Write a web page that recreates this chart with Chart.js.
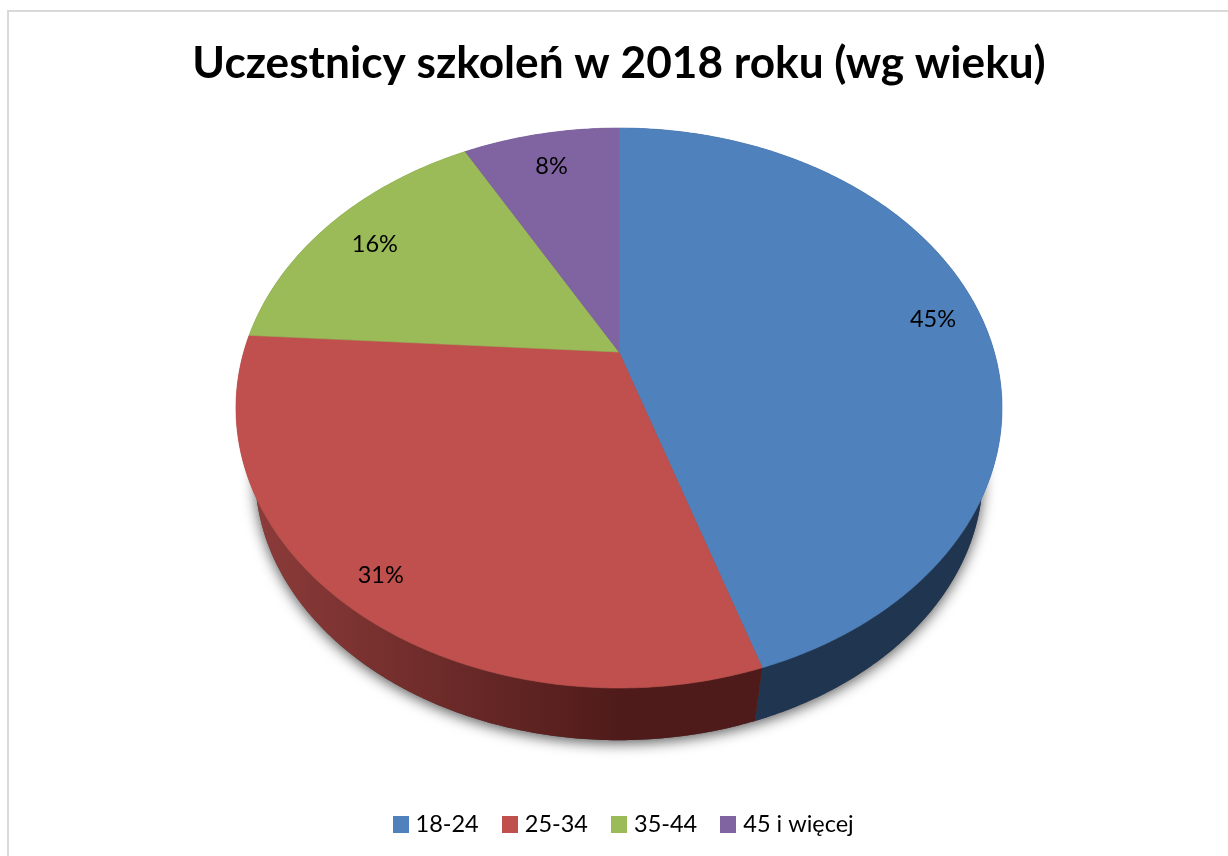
<!DOCTYPE html>
<html>
<head>
<meta charset="utf-8">
<title>Uczestnicy szkoleń</title>
<script src="https://cdn.jsdelivr.net/npm/chart.js@4"></script>
<style>
  html, body { margin: 0; padding: 0; background: #fff; overflow: hidden; }
  #frame { position: absolute; left: 7px; top: 10px; right: 0; bottom: 0; border-left: 2px solid #d9d9d9; border-top: 2px solid #d9d9d9; }
  #chart { position: absolute; left: 0; top: 0; }
</style>
</head>
<body>
<div id="frame"></div>
<canvas id="chart" width="1228" height="856"></canvas>
<script>
// Data
const titleText = "Uczestnicy szkoleń w 2018 roku (wg wieku)";
const categories = ["18-24", "25-34", "35-44", "45 i więcej"];
const shares = [45, 31, 16, 8];

// Colours
const sliceColors = ["#4f81bd", "#c0504d", "#9bbb59", "#8064a2"];
const wallLight = ["#1f3550", "#8b3b39", "#5d7035", "#4c3c61"];
const wallDark = ["#1f3550", "#4f1b1a", "#5d7035", "#4c3c61"];

// How far out along the radius each percent label sits
const labelDepth = [0.87, 0.89, 0.84, 0.84];

// Tilted view of the pie: the disc is seen in perspective, so its centre is
// not in the middle of the ellipse
const view = { apexY: 352, ax: 375.3, by: 268.8, k: 0.2, lowerScale: 0.95, lowerY: 421 };

function project(el, angle, r, lower) {
  const u = r * Math.cos(angle);
  const v = r * Math.sin(angle);
  const d = 1 - view.k * v;
  const s = lower ? view.lowerScale : 1;
  return {
    x: el.x + s * view.ax * u / d,
    y: (lower ? view.lowerY : view.apexY) + s * view.by * v / d
  };
}

function traceEdge(ctx, el, from, to, lower) {
  const steps = Math.max(2, Math.ceil(Math.abs(to - from) / 0.01));
  for (let i = 0; i <= steps; i++) {
    const p = project(el, from + (to - from) * i / steps, 1, lower);
    ctx.lineTo(p.x, p.y);
  }
}

// Legend swatch as a small canvas, so the gap to the text can be closer than
// the legend's own box layout allows
function swatch(color) {
  const c = document.createElement("canvas");
  c.width = 16;
  c.height = 17;
  const g = c.getContext("2d");
  g.fillStyle = color;
  g.fillRect(0, 0, 16, 17);
  return c;
}

const tiltedPie = {
  id: "tiltedPie",
  afterLayout(chart) {
    // legend sits a little right of the canvas centre
    chart.legend.left += 6.5;
    chart.legend.right += 6.5;
  },
  beforeDatasetDraw(chart, args) {
    const ctx = chart.ctx;
    const arcs = args.meta.data;
    const first = arcs[0];

    // soft shadow under the bottom edge
    ctx.save();
    ctx.shadowColor = "rgba(0,0,0,0.65)";
    ctx.shadowBlur = 14;
    ctx.shadowOffsetY = 3;
    ctx.fillStyle = "#444";
    ctx.beginPath();
    traceEdge(ctx, first, 0, Math.PI * 2, true);
    ctx.closePath();
    ctx.fill();
    ctx.restore();

    // side walls
    arcs.forEach((el, i) => {
      const grad = ctx.createLinearGradient(260, 0, 620, 0);
      grad.addColorStop(0, wallLight[i]);
      grad.addColorStop(1, wallDark[i]);
      ctx.fillStyle = grad;
      ctx.beginPath();
      traceEdge(ctx, el, el.startAngle, el.endAngle, false);
      traceEdge(ctx, el, el.endAngle, el.startAngle, true);
      ctx.closePath();
      ctx.fill();
    });

    // top face
    arcs.forEach(el => {
      const apex = project(el, 0, 0, false);
      ctx.fillStyle = el.options.backgroundColor;
      ctx.strokeStyle = el.options.backgroundColor;
      ctx.lineWidth = 0.6;
      ctx.beginPath();
      ctx.moveTo(apex.x, apex.y);
      traceEdge(ctx, el, el.startAngle, el.endAngle, false);
      ctx.closePath();
      ctx.fill();
      ctx.stroke();
    });

    // percent labels
    ctx.fillStyle = "#000";
    ctx.font = "23.5px Lato";
    ctx.textAlign = "center";
    ctx.textBaseline = "middle";
    const total = shares.reduce((a, b) => a + b, 0);
    arcs.forEach((el, i) => {
      const p = project(el, (el.startAngle + el.endAngle) / 2, labelDepth[i], false);
      ctx.fillText(Math.round(shares[i] / total * 100) + "%", p.x, p.y + 3);
    });
    return false; // the flat arcs are not drawn
  }
};

new Chart(document.getElementById("chart"), {
  type: "pie",
  data: {
    labels: categories,
    datasets: [{ data: shares, backgroundColor: sliceColors, borderWidth: 0 }]
  },
  plugins: [tiltedPie],
  options: {
    responsive: false,
    animation: false,
    layout: { padding: { left: 10, top: 37, bottom: 10 } },
    plugins: {
      tooltip: { enabled: false },
      title: {
        display: true,
        text: titleText,
        color: "#000",
        font: { family: "Lato", size: 44.2, weight: "bold" },
        padding: { top: 0, bottom: 10 }
      },
      legend: {
        position: "bottom",
        labels: {
          color: "#000",
          font: { family: "Lato", size: 23.5 },
          usePointStyle: true,
          pointStyleWidth: 6.5,
          padding: 27.75,
          generateLabels(chart) {
            const items = Chart.overrides.pie.plugins.legend.labels.generateLabels(chart);
            items.forEach((it, i) => { it.pointStyle = swatch(sliceColors[i]); });
            return items;
          }
        }
      }
    }
  }
});
</script>
</body>
</html>
